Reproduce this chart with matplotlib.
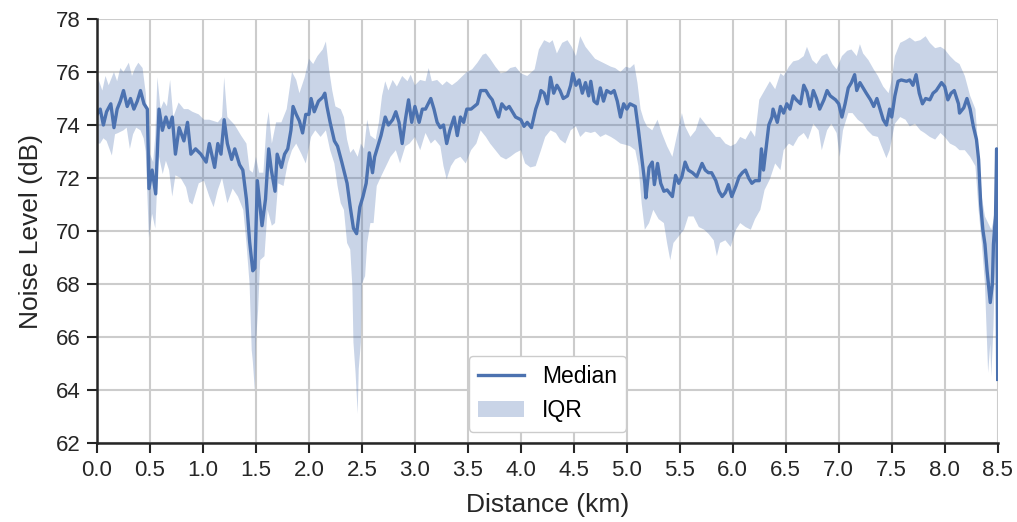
import matplotlib
matplotlib.use('Agg')
import matplotlib.pyplot as plt

plt.rcParams['font.family'] = ['Liberation Sans', 'DejaVu Sans']

# median noise level along the route
median_km = [0.00, 0.03, 0.06, 0.09, 0.13, 0.16, 0.19, 0.22, 0.25, 0.285, 0.316, 0.348, 0.38, 0.41, 0.443, 0.475,
             0.49, 0.52, 0.554, 0.585, 0.617, 0.65, 0.68, 0.71, 0.74, 0.775, 0.82, 0.854, 0.886, 0.93, 0.98,
             1.03, 1.06, 1.11, 1.14, 1.17, 1.20, 1.23, 1.27, 1.30, 1.345, 1.376, 1.41, 1.44, 1.47, 1.49, 1.513,
             1.557, 1.59, 1.62, 1.645, 1.68, 1.70, 1.74, 1.77, 1.80, 1.83, 1.85, 1.88, 1.91, 1.94, 1.97, 2.00,
             2.02, 2.05, 2.09, 2.13, 2.15, 2.17, 2.20, 2.24, 2.27, 2.31, 2.36, 2.39, 2.42, 2.45, 2.48, 2.51,
             2.54, 2.57, 2.60, 2.62, 2.65, 2.68, 2.72, 2.75, 2.79, 2.82, 2.85, 2.88, 2.91, 2.94, 2.97, 3.00,
             3.04, 3.07, 3.10, 3.15, 3.18, 3.21, 3.24, 3.27, 3.30, 3.33, 3.37, 3.40, 3.43, 3.46, 3.49, 3.53,
             3.56, 3.59, 3.62, 3.67, 3.70, 3.73, 3.76, 3.79, 3.82, 3.86, 3.89, 3.92, 3.95, 4.00, 4.03, 4.06,
             4.10, 4.14, 4.17, 4.19, 4.22, 4.25, 4.28, 4.31, 4.34, 4.37, 4.40, 4.44, 4.47, 4.49, 4.52, 4.55,
             4.58, 4.61, 4.64, 4.66, 4.69, 4.72, 4.75, 4.78, 4.81, 4.85, 4.88, 4.91, 4.94, 4.97, 5.00, 5.03,
             5.08, 5.11, 5.14, 5.17, 5.18, 5.21, 5.24, 5.26, 5.29, 5.32, 5.35, 5.38, 5.43, 5.46, 5.49, 5.52,
             5.55, 5.58, 5.62, 5.66, 5.71, 5.74, 5.77, 5.80, 5.84, 5.87, 5.90, 5.93, 5.96, 5.99, 6.03, 6.06,
             6.09, 6.12, 6.15, 6.18, 6.21, 6.25, 6.27, 6.29, 6.32, 6.34, 6.37, 6.38, 6.42, 6.45, 6.48, 6.51,
             6.54, 6.57, 6.60, 6.64, 6.67, 6.70, 6.73, 6.76, 6.79, 6.82, 6.86, 6.89, 6.92, 6.97, 7.00, 7.03,
             7.06, 7.09, 7.12, 7.15, 7.17, 7.20, 7.23, 7.26, 7.30, 7.33, 7.36, 7.39, 7.42, 7.45, 7.48, 7.50,
             7.53, 7.56, 7.59, 7.64, 7.67, 7.70, 7.73, 7.76, 7.79, 7.82, 7.86, 7.89, 7.92, 7.97, 8.00, 8.03,
             8.06, 8.09, 8.13, 8.14, 8.18, 8.21, 8.24, 8.27, 8.30, 8.32, 8.34, 8.36, 8.38, 8.40, 8.43, 8.45,
             8.46, 8.48, 8.49, 8.50]
median_db = [74.4, 74.6, 74.0, 74.5, 74.8, 73.9, 74.6, 74.9, 75.3, 74.7, 75.0, 74.6, 74.9, 75.3, 74.8, 74.6,
             71.6, 72.3, 71.4, 74.6, 73.8, 74.3, 73.9, 74.3, 72.9, 73.9, 73.4, 74.1, 72.9, 73.1, 72.9,
             72.6, 73.3, 72.4, 73.3, 72.9, 74.2, 73.3, 72.7, 73.1, 72.5, 72.3, 71.2, 69.6, 68.5, 68.6, 71.9,
             70.2, 71.2, 73.1, 72.3, 71.5, 72.9, 72.4, 72.9, 73.1, 73.8, 74.7, 74.4, 74.15, 73.7, 74.4, 74.4,
             75.0, 74.5, 74.9, 75.05, 75.2, 74.7, 74.1, 73.4, 73.2, 72.6, 71.8, 70.9, 70.1, 69.9, 70.9, 71.3,
             71.8, 72.95, 72.2, 72.8, 73.2, 73.6, 74.3, 74.0, 74.2, 74.5, 74.1, 73.3, 74.2, 74.95, 74.1, 74.7,
             74.1, 74.6, 74.6, 75.0, 74.6, 74.1, 73.9, 74.0, 73.3, 73.8, 74.3, 73.6, 74.3, 74.1, 74.6, 74.6,
             74.7, 74.8, 75.3, 75.3, 75.1, 74.95, 74.6, 74.3, 74.8, 74.6, 74.7, 74.5, 74.3, 74.2, 73.95, 74.1,
             73.9, 74.6, 74.95, 75.3, 75.2, 74.8, 75.8, 75.2, 75.5, 75.3, 75.0, 75.1, 75.5, 75.95, 75.5, 75.7,
             75.2, 75.6, 75.1, 75.65, 74.9, 74.8, 75.4, 74.9, 75.3, 75.2, 75.3, 74.9, 74.3, 74.8, 74.6, 74.8,
             74.7, 73.8, 72.8, 71.8, 71.25, 72.4, 72.6, 71.75, 72.55, 71.8, 71.5, 71.55, 71.3, 72.1, 71.8, 72.05,
             72.6, 72.3, 72.2, 72.05, 72.55, 72.3, 72.2, 72.2, 71.9, 71.5, 71.3, 71.45, 71.75, 71.3, 71.7, 72.05,
             72.2, 72.3, 72.0, 71.8, 71.9, 71.9, 73.1, 72.3, 73.3, 74.0, 74.3, 74.6, 74.1, 74.7, 74.45, 74.8,
             74.6, 75.1, 74.95, 74.8, 75.5, 75.25, 74.7, 75.3, 75.0, 74.6, 74.95, 75.3, 75.1, 74.95, 74.8, 74.3,
             74.8, 75.4, 75.6, 75.9, 75.3, 75.6, 75.4, 75.2, 74.95, 74.7, 75.0, 74.6, 74.2, 74.0, 74.6, 74.3,
             75.1, 75.65, 75.7, 75.65, 75.7, 75.5, 75.9, 75.2, 74.8, 75.0, 74.95, 75.2, 75.3, 75.6, 75.45, 74.95,
             75.2, 75.3, 74.8, 74.45, 74.65, 75.0, 74.6, 73.95, 73.45, 72.7, 71.0, 70.05, 69.5, 68.5, 67.3, 68.0,
             69.5, 70.6, 73.1, 64.4]

# upper edge of the interquartile range
upper_km = [0.00, 0.016, 0.05, 0.08, 0.11, 0.16, 0.19, 0.22, 0.25, 0.30, 0.33, 0.36, 0.39, 0.43, 0.46, 0.48,
            0.50, 0.53, 0.55, 0.57, 0.60, 0.63, 0.66, 0.69, 0.72, 0.77, 0.82, 0.86, 0.90, 0.96, 1.01, 1.06,
            1.14, 1.18, 1.20, 1.23, 1.30, 1.36, 1.41, 1.44, 1.47, 1.50, 1.53, 1.57, 1.60, 1.62, 1.65, 1.69,
            1.74, 1.79, 1.84, 1.88, 1.91, 1.96, 2.00, 2.04, 2.08, 2.13, 2.16, 2.19, 2.22, 2.25, 2.30, 2.33,
            2.36, 2.39, 2.42, 2.46, 2.49, 2.52, 2.55, 2.58, 2.63, 2.66, 2.69, 2.72, 2.75, 2.79, 2.83, 2.88,
            2.93, 2.96, 3.00, 3.05, 3.10, 3.13, 3.16, 3.21, 3.26, 3.30, 3.35, 3.40, 3.45, 3.49, 3.54, 3.59,
            3.64, 3.67, 3.71, 3.76, 3.81, 3.86, 3.90, 3.95, 4.00, 4.06, 4.13, 4.17, 4.22, 4.27, 4.30, 4.34,
            4.39, 4.44, 4.48, 4.52, 4.56, 4.61, 4.66, 4.70, 4.75, 4.80, 4.85, 4.89, 4.94, 4.99, 5.03, 5.07,
            5.10, 5.13, 5.16, 5.19, 5.24, 5.29, 5.33, 5.38, 5.43, 5.47, 5.52, 5.55, 5.60, 5.65, 5.69, 5.74,
            5.79, 5.84, 5.88, 5.93, 5.98, 6.03, 6.07, 6.12, 6.17, 6.21, 6.25, 6.30, 6.35, 6.40, 6.45, 6.48,
            6.53, 6.57, 6.62, 6.67, 6.70, 6.75, 6.79, 6.84, 6.89, 6.94, 6.98, 7.03, 7.08, 7.12, 7.17, 7.20,
            7.23, 7.28, 7.33, 7.37, 7.42, 7.47, 7.50, 7.53, 7.58, 7.63, 7.67, 7.72, 7.77, 7.82, 7.86, 7.91,
            7.96, 8.00, 8.05, 8.10, 8.14, 8.19, 8.24, 8.29, 8.32, 8.35, 8.38, 8.41, 8.44, 8.47, 8.49, 8.50]
upper_db = [75.5, 75.7, 75.3, 75.85, 75.5, 76.0, 75.65, 76.15, 76.0, 76.35, 75.85, 76.15, 76.35, 76.15, 75.2, 73.8,
            72.9, 72.6, 73.6, 75.8, 74.6, 74.9, 74.7, 75.7, 74.3, 74.85, 74.6, 74.6, 74.5, 74.4, 74.2, 74.2,
            74.1, 74.3, 75.8, 74.3, 74.0, 73.6, 73.3, 72.3, 72.2, 72.8, 72.2, 72.2, 74.0, 74.5, 73.3, 74.1,
            74.1, 74.6, 76.0, 75.7, 75.2, 75.8, 76.5, 76.3, 76.6, 76.85, 77.15, 76.1, 75.3, 74.7, 74.6, 74.3,
            73.45, 72.95, 73.1, 72.8, 73.3, 73.1, 74.2, 73.6, 73.45, 74.1, 75.1, 75.65, 75.3, 75.7, 75.45, 75.85,
            75.65, 75.9, 75.5, 75.7, 75.65, 76.15, 75.65, 75.7, 75.5, 75.65, 75.5, 75.65, 75.85, 76.0, 76.1, 76.35,
            76.65, 76.7, 76.5, 76.2, 75.95, 76.0, 76.15, 76.2, 75.95, 75.85, 76.1, 76.85, 77.2, 77.1, 77.2, 76.7,
            77.1, 77.2, 76.95, 76.6, 77.35, 76.95, 76.7, 76.5, 76.4, 76.3, 76.2, 76.15, 76.0, 76.2, 76.15, 76.3,
            75.6, 74.6, 74.2, 73.95, 73.8, 74.2, 73.7, 73.2, 72.8, 73.55, 74.45, 73.95, 73.55, 73.8, 74.3, 74.05,
            73.8, 73.55, 73.55, 73.3, 73.2, 73.3, 73.55, 73.45, 73.8, 73.55, 74.95, 75.3, 75.65, 75.35, 75.95, 75.85,
            76.2, 76.4, 76.45, 76.6, 76.95, 76.45, 76.3, 76.6, 76.7, 76.3, 76.1, 76.6, 76.8, 76.85, 76.6, 77.05,
            76.7, 76.45, 76.1, 75.85, 75.45, 75.2, 75.7, 76.6, 77.1, 77.2, 77.3, 77.15, 77.2, 77.35, 77.1, 76.9,
            76.95, 76.85, 76.6, 76.4, 76.3, 75.85, 75.1, 74.6, 72.95, 71.3, 70.55, 70.3, 70.05, 70.55, 73.05, 73.0]

# lower edge of the interquartile range
lower_km = [0.00, 0.03, 0.06, 0.09, 0.14, 0.17, 0.20, 0.25, 0.28, 0.31, 0.34, 0.37, 0.41, 0.44, 0.46, 0.49,
            0.52, 0.55, 0.57, 0.58, 0.62, 0.65, 0.68, 0.71, 0.74, 0.79, 0.84, 0.87, 0.90, 0.93, 0.96, 1.01,
            1.06, 1.10, 1.14, 1.18, 1.23, 1.28, 1.33, 1.38, 1.41, 1.44, 1.46, 1.47, 1.49, 1.50, 1.52, 1.54,
            1.58, 1.61, 1.65, 1.68, 1.71, 1.76, 1.80, 1.84, 1.88, 1.93, 1.97, 2.02, 2.06, 2.11, 2.16, 2.20,
            2.24, 2.27, 2.30, 2.33, 2.36, 2.39, 2.41, 2.42, 2.44, 2.46, 2.47, 2.49, 2.50, 2.53, 2.55, 2.58,
            2.61, 2.64, 2.68, 2.71, 2.74, 2.77, 2.82, 2.86, 2.91, 2.95, 3.00, 3.05, 3.10, 3.15, 3.19, 3.24,
            3.27, 3.30, 3.34, 3.38, 3.43, 3.48, 3.53, 3.58, 3.62, 3.67, 3.71, 3.76, 3.81, 3.86, 3.90, 3.95,
            4.00, 4.04, 4.09, 4.14, 4.19, 4.23, 4.28, 4.33, 4.37, 4.42, 4.47, 4.52, 4.56, 4.61, 4.66, 4.70,
            4.75, 4.80, 4.85, 4.89, 4.94, 4.99, 5.03, 5.08, 5.11, 5.14, 5.17, 5.21, 5.25, 5.30, 5.35, 5.38,
            5.41, 5.44, 5.49, 5.54, 5.58, 5.63, 5.68, 5.73, 5.77, 5.82, 5.85, 5.88, 5.93, 5.98, 6.03, 6.07,
            6.12, 6.17, 6.21, 6.26, 6.30, 6.35, 6.40, 6.45, 6.48, 6.53, 6.57, 6.62, 6.67, 6.71, 6.76, 6.81,
            6.84, 6.89, 6.93, 6.98, 7.01, 7.04, 7.09, 7.13, 7.18, 7.23, 7.27, 7.32, 7.37, 7.42, 7.45, 7.48,
            7.53, 7.58, 7.63, 7.67, 7.72, 7.77, 7.81, 7.86, 7.91, 7.96, 8.00, 8.05, 8.10, 8.14, 8.19, 8.24,
            8.29, 8.32, 8.35, 8.38, 8.40, 8.41, 8.43, 8.44, 8.46, 8.47, 8.49, 8.50]
lower_db = [73.3, 73.3, 73.5, 73.4, 72.85, 73.65, 73.7, 73.8, 73.9, 73.1, 73.65, 73.9, 73.8, 73.5, 73.0, 69.75,
            70.65, 70.1, 71.9, 72.9, 72.15, 72.65, 72.3, 71.3, 72.1, 72.0, 71.65, 71.1, 71.0, 71.4, 71.8, 71.9,
            71.3, 70.9, 71.55, 72.0, 71.05, 71.6, 71.3, 70.8, 69.55, 68.0, 65.5, 65.1, 63.95, 65.8, 67.0, 68.9,
            69.05, 70.8, 70.2, 70.3, 71.8, 71.7, 72.55, 73.05, 73.3, 72.9, 72.55, 73.55, 73.8, 73.55, 73.8, 73.05,
            72.55, 71.7, 71.05, 70.8, 69.55, 69.3, 67.9, 65.8, 64.65, 63.1, 64.8, 65.8, 68.0, 68.3, 69.55, 70.3,
            70.3, 71.7, 72.05, 72.3, 72.55, 72.8, 73.05, 72.55, 73.2, 73.3, 73.55, 73.05, 73.7, 73.3, 73.45, 73.2,
            72.45, 71.95, 72.45, 72.7, 72.8, 72.55, 73.05, 73.3, 73.8, 73.55, 73.3, 73.05, 72.8, 72.7, 72.8, 72.95,
            73.05, 72.55, 72.4, 72.45, 73.05, 73.55, 73.8, 73.7, 73.45, 73.3, 73.8, 73.95, 73.55, 73.75, 73.7, 73.75,
            73.55, 73.65, 73.55, 73.45, 73.3, 73.25, 73.2, 73.05, 72.45, 71.05, 70.05, 70.3, 70.8, 70.45, 70.3, 69.55,
            68.9, 69.55, 69.8, 70.05, 70.55, 70.55, 70.15, 70.05, 69.9, 69.65, 69.05, 69.55, 69.65, 69.4, 70.05, 70.3,
            70.15, 70.05, 70.45, 70.8, 71.55, 71.95, 72.55, 72.3, 73.05, 73.3, 73.2, 73.55, 73.7, 73.45, 74.05, 73.8,
            73.05, 73.8, 74.05, 73.7, 72.8, 73.8, 74.45, 74.45, 74.2, 74.05, 73.8, 73.6, 73.55, 73.05, 72.75, 73.05,
            74.05, 74.3, 74.2, 73.95, 74.05, 73.8, 73.7, 73.55, 73.45, 73.7, 73.55, 73.3, 73.2, 73.05, 73.05, 72.8,
            72.45, 70.8, 69.55, 68.0, 65.75, 64.65, 65.75, 64.5, 66.4, 68.0, 69.55, 64.1]

color = '#4c72b0'

fig, ax = plt.subplots(figsize=(10.17, 5.22), dpi=100)
fig.subplots_adjust(left=0.0954, right=0.981, top=0.9636, bottom=0.1513)

# IQR band as one polygon: upper edge forward, lower edge back
ax.fill(upper_km + lower_km[::-1], upper_db + lower_db[::-1],
        color=color, alpha=0.3, linewidth=0, label='IQR')
ax.plot(median_km, median_db, color=color, lw=2.4, label='Median')

ax.set_xlim(0, 8.5)
ax.set_ylim(62, 78)
ax.set_xticks([i * 0.5 for i in range(18)])
ax.set_yticks(range(62, 79, 2))
ax.set_xlabel('Distance (km)', fontsize=19, color='#262626', labelpad=9)
ax.set_ylabel('Noise Level (dB)', fontsize=19, color='#262626', labelpad=9)
ax.tick_params(labelsize=16, colors='#262626', length=7, width=1.5, direction='out', pad=5)
ax.grid(True, color='#cccccc', lw=1.5)
ax.set_axisbelow(True)
for s in ['top', 'right']:
    ax.spines[s].set_visible(False)
for s in ['left', 'bottom']:
    ax.spines[s].set_linewidth(1.8)
    ax.spines[s].set_color('#262626')

handles, labels = ax.get_legend_handles_labels()
ax.legend(handles[::-1], labels[::-1], loc='lower center', bbox_to_anchor=(0.5, 0.0),
          fontsize=16.5, frameon=True, edgecolor='#cccccc', framealpha=1)

fig.savefig('out.png', dpi=100)
